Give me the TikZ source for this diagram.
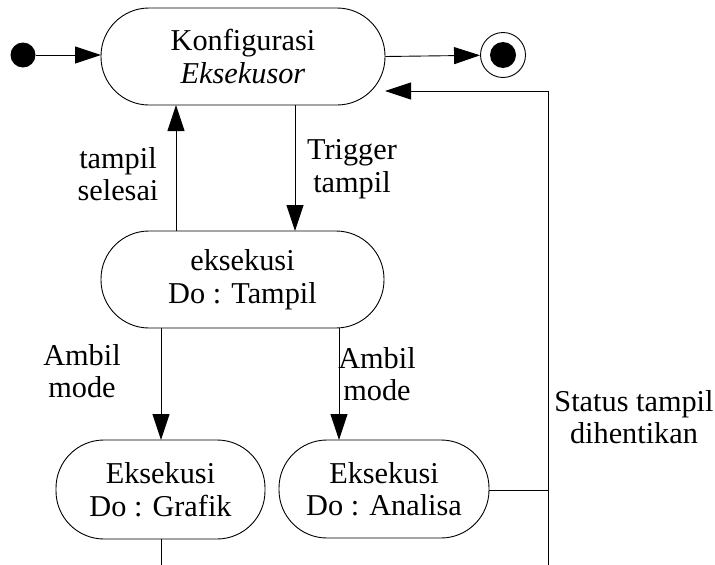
\documentclass[tikz,border=0pt]{standalone}
\usepackage{fontspec}
\setmainfont{Liberation Serif}
\usetikzlibrary{arrows.meta}
\begin{document}
\begin{tikzpicture}[x=1pt, y=-1pt,
  every node/.style={font=\fontsize{30.3}{32.5}\selectfont, inner sep=0pt},
  state/.style={draw, line width=0.9pt, rounded corners=48pt, align=center},
  lbl/.style={align=center},
  flow/.style={line width=0.9pt, -{Triangle[length=26pt, width=17pt]}},
  wire/.style={line width=0.9pt}]
  \useasboundingbox (0,0) rectangle (715,565);

  % states
  \node[state, minimum width=284pt, minimum height=97pt] (konf) at (243,56.5)
    {Konfigurasi\\\textit{Eksekusor}};
  \node[state, minimum width=283pt, minimum height=97pt] (eks) at (242.5,279.5)
    {eksekusi\\Do : Tampil};
  \node[state, minimum width=209pt, minimum height=99pt] (graf) at (160.5,489.5)
    {Eksekusi\\Do : Grafik};
  \node[state, minimum width=210pt, minimum height=98pt] (anal) at (384,489)
    {Eksekusi\\Do : Analisa};

  % initial and final pseudo states
  \node[circle, fill=black, minimum size=25pt] (start) at (23,55) {};
  \node[circle, draw, line width=0.9pt, minimum size=45pt] (final) at (503,55) {};
  \node[circle, fill=black, minimum size=26pt] (finalin) at (final.center) {};

  % helper points
  \coordinate (upA) at (176,231);
  \coordinate (upB) at (176,105);
  \coordinate (dnA) at (295,105);
  \coordinate (dnB) at (295,231);
  \coordinate (lA) at (161,328);
  \coordinate (lB) at (161,440);
  \coordinate (rA) at (339,328);
  \coordinate (rB) at (339,440);
  \coordinate (grafout) at (161,565);
  \coordinate (busbot) at (548,565);
  \coordinate (bustop) at (548,91);
  \coordinate (busmid) at (548,490);
  \coordinate (ret) at (385,91);
  \coordinate (entry) at (101,55);

  % transitions
  \draw[flow] (start) -- (entry);
  \draw[flow] (konf.east) -- (final);
  \draw[flow] (upA) -- (upB);
  \draw[flow] (dnA) -- (dnB);
  \draw[flow] (lA) -- (lB);
  \draw[flow] (rA) -- (rB);
  \draw[wire] (graf.south -| grafout) -- (grafout);
  \draw[wire] (anal.east |- busmid) -- (busmid);
  \draw[flow] (busbot) -- (bustop) -- (ret);

  % transition labels
  \node[lbl] (tsel) at (118,174) {tampil\\selesai};
  \node[lbl] (trig) at (352,169) {Trigger\\tampil};
  \node[lbl] (amb1) at (82,371) {Ambil\\mode};
  \node[lbl] (amb2) at (377,374) {Ambil\\mode};
  \node[lbl] (stat) at (634,417) {Status tampil\\dihentikan};
\end{tikzpicture}
\end{document}
